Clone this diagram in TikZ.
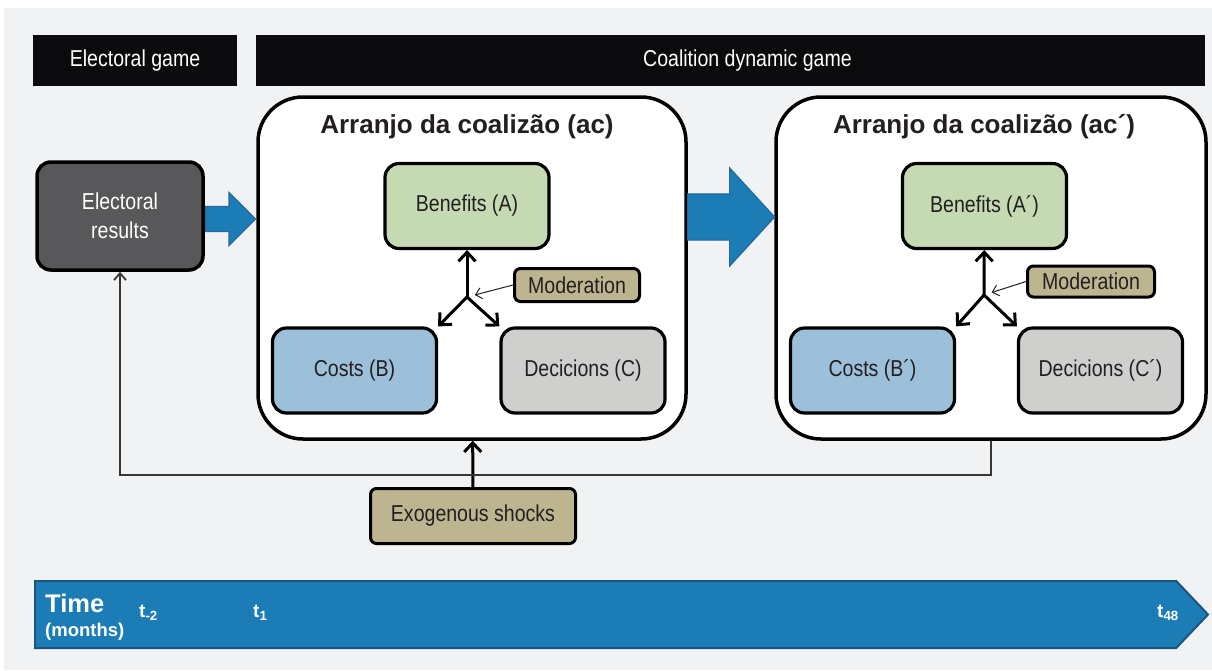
\documentclass[tikz,border=0pt]{standalone}
\usepackage{fontspec}
\setmainfont{Liberation Sans}
\newfontfamily\narrowfont[FakeStretch=0.85]{Liberation Sans}
\usepackage{tikz}
\usetikzlibrary{positioning}
\usetikzlibrary{arrows.meta}
\usetikzlibrary{shapes.arrows}
\definecolor{paper}{HTML}{F1F2F4}
\definecolor{headblack}{HTML}{0B0A0C}
\definecolor{resultgray}{HTML}{58585A}
\definecolor{arrowblue}{HTML}{1C7DB6}
\definecolor{arrowedge}{HTML}{2468A0}
\definecolor{benefitgreen}{HTML}{C5D9B2}
\definecolor{costblue}{HTML}{9DC0DA}
\definecolor{decisiongray}{HTML}{CFCFCD}
\definecolor{tagtan}{HTML}{BDB58F}
\definecolor{ink}{HTML}{231F20}
\pgfdeclarelayer{backlayer}
\pgfdeclarelayer{nodelayer}
\pgfdeclarelayer{edgelayer}
\pgfsetlayers{backlayer,edgelayer,nodelayer,main}
\tikzset{nothing/.style={inner sep=0pt, outer sep=0pt, minimum size=0pt}}
\tikzset{header/.style={fill=headblack, text=white, inner sep=0pt, minimum height=51pt,
font=\narrowfont\fontsize{23}{26}\selectfont}}
\tikzset{results/.style={draw=black, line width=3.5pt, fill=resultgray, rounded corners=14pt,
text=white, align=center, minimum width=166pt, minimum height=108pt,
font=\narrowfont\fontsize{23}{29}\selectfont}}
\tikzset{arranjo/.style={draw=black, line width=3.5pt, fill=white, rounded corners=45pt,
minimum height=342pt}}
\tikzset{title/.style={text=ink, inner sep=0pt, font=\bfseries\fontsize{26}{30}\selectfont}}
\tikzset{factor/.style={draw=black, line width=3.2pt, rounded corners=14pt, text=ink,
minimum width=164pt, minimum height=85pt, font=\narrowfont\fontsize{23}{26}\selectfont}}
\tikzset{benefit/.style={factor, fill=benefitgreen}}
\tikzset{cost/.style={factor, fill=costblue}}
\tikzset{decision/.style={factor, fill=decisiongray}}
\tikzset{tag/.style={draw=black, line width=3pt, rounded corners=6pt, fill=tagtan, text=ink,
inner sep=0pt, font=\narrowfont\fontsize{23}{26}\selectfont}}
\tikzset{bigarrow/.style={single arrow, draw=arrowedge, line width=1.2pt, fill=arrowblue,
inner xsep=0pt, single arrow head indent=0pt, anchor=tail}}
\tikzset{timetext/.style={text=white, inner sep=0pt, anchor=base west}}
\tikzset{link/.style={draw=black, line width=3pt, -{Straight Barb[length=9pt,width=17pt]}}}
\tikzset{thinlink/.style={draw=ink, line width=1pt, -{Straight Barb[length=6pt,width=11pt]}}}
\tikzset{feedback/.style={draw=ink!90, line width=1.8pt, -{Straight Barb[length=7pt,width=12pt]}}}

\begin{document}
\begin{tikzpicture}[x=20pt, y=20pt]
	\useasboundingbox (0, 0) rectangle (60.6, -33.5);
	\begin{pgfonlayer}{backlayer}
		\fill [paper] (0.2, -0.4) rectangle (60.6, -33.5);
		\node [style=arranjo, minimum width=428pt] (3) at (23.6, -13.4) {};
		\node [style=arranjo, minimum width=430pt] (10) at (49.55, -13.4) {};
		\node [style=bigarrow, draw=arrowedge!80!black, line width=2pt, minimum height=1173pt, inner ysep=32.5pt,
			single arrow head extend=0pt, single arrow tip angle=93] (19) at (1.7, -30.725) {};
	\end{pgfonlayer}
	\begin{pgfonlayer}{nodelayer}
		\node [style=header, minimum width=204pt] (0) at (6.75, -3.025) {Electoral game};
		\node [style=header, minimum width=949pt] (1) at (36.525, -3.025) {\hspace*{34pt}Coalition dynamic game};
		\node [style=results] (2) at (6, -10.8) {Electoral\\results};
		\node [style=title] (4) at (23.35, -6.35) {Arranjo da coalizão (ac)};
		\node [style=benefit] (5) at (23.35, -10.3) {Benefits (A)};
		\node [style=tag, minimum width=125pt, minimum height=33pt] (6) at (28.85, -14.25) {Moderation};
		\node [style=nothing] (7) at (23.35, -14.85) {};
		\node [style=cost] (8) at (17.725, -18.525) {Costs (B)};
		\node [style=decision] (9) at (29.15, -18.525) {Decicions (C)};
		\node [style=title] (11) at (49.2, -6.35) {Arranjo da coalizão (ac´)};
		\node [style=benefit] (12) at (49.225, -10.3) {Benefits (A´)};
		\node [style=tag, minimum width=127pt, minimum height=31pt] (13) at (54.55, -14.075) {Moderation};
		\node [style=nothing] (14) at (49.2, -14.75) {};
		\node [style=cost] (15) at (43.625, -18.525) {Costs (B´)};
		\node [style=decision] (16) at (55.025, -18.525) {Decicions (C´)};
		\node [style=tag, minimum width=205pt, minimum height=55pt] (17) at (23.65, -25.8) {Exogenous shocks};
		\node [style=nothing] (18) at (6, -23.75) {};
		\node [style=bigarrow, minimum height=50pt, inner ysep=12pt, single arrow head extend=14pt,
			single arrow tip angle=90] (20) at (10.25, -10.95) {};
		\node [style=bigarrow, minimum height=87pt, inner ysep=22.5pt, single arrow head extend=26pt,
			single arrow tip angle=95] (21) at (34.35, -10.85) {};
		\node [style=timetext, font=\bfseries\fontsize{25.5}{28}\selectfont] (22) at (2.25, -30.6) {Time};
		\node [style=timetext, font=\bfseries\fontsize{18.5}{20}\selectfont] (23) at (2.25, -31.8) {(months)};
		\node [style=timetext, font=\bfseries\fontsize{19}{22}\selectfont] (24) at (6.95, -30.85) {t\textsubscript{-2}};
		\node [style=timetext, font=\bfseries\fontsize{19}{22}\selectfont] (25) at (12.65, -30.85) {t\textsubscript{1}};
		\node [style=timetext, font=\bfseries\fontsize{19}{22}\selectfont] (26) at (57.85, -30.85) {t\textsubscript{48}};
	\end{pgfonlayer}
	\begin{pgfonlayer}{edgelayer}
		\draw [style=link] (7.center) to (5);
		\draw [style=link] (7.center) to (8.north east);
		\draw [style=link] (7.center) to (9.north west);
		\draw [style=thinlink, shorten >=8pt] (6.west) to (7.center);
		\draw [style=link] (14.center) to (12);
		\draw [style=link] (14.center) to (15.north east);
		\draw [style=link] (14.center) to (16.north west);
		\draw [style=thinlink, shorten >=8pt] (13.west) to (14.center);
		\draw [style=link] (17) to (3);
		\draw [style=feedback] (10) |- (18.center) to (2);
	\end{pgfonlayer}
\end{tikzpicture}
\end{document}
